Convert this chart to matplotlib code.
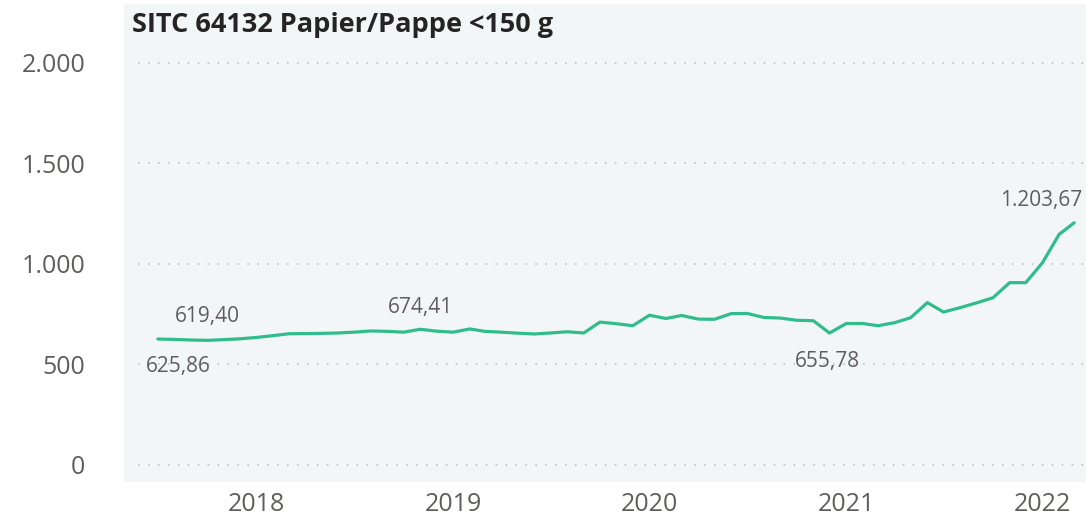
import matplotlib
matplotlib.use("Agg")
import matplotlib.pyplot as plt
import matplotlib.dates as mdates
import numpy as np
import pandas as pd

# ---- data ----
start_month = "2017-07-01"
values = [625.86, 624, 621, 619.40, 623, 627, 634, 643, 652, 653, 654, 656,
          660, 666, 664, 660, 674.41, 665, 660, 676, 664, 660, 655, 651,
          656, 662, 656, 710, 702, 692, 744, 728, 743, 725, 724, 752,
          753, 733, 730, 719, 717, 655.78, 703, 703, 692, 707, 732, 807,
          760, 782, 806, 831, 906, 906, 1005, 1146, 1203.67]
dates = pd.date_range(start_month, periods=len(values), freq="MS")
labeled = {0: (20, -27), 3: (0, 24), 16: (0, 22), 41: (-2, -28), 56: (-33, 22)}
year_ticks = ["2018", "2019", "2020", "2021", "2022"]
y_ticks = [0, 500, 1000, 1500, 2000]
y_ticklabels = ["0", "500", "1.000", "1.500", "2.000"]
title = "SITC 64132 Papier/Pappe <150 g"

# ---- style ----
W, H = 1086, 520
plt.rcParams['font.family'] = ['Open Sans', 'DejaVu Sans']
line_color = "#30BD8B"
panel_color = "#F3F6F7"
text_grey = "#605E5C"

fig = plt.figure(figsize=(W / 100, H / 100), dpi=100)
ax_left, ax_right, ax_top, ax_bottom = 124, 1086, 4, 482
ax = fig.add_axes([ax_left / W, 1 - ax_bottom / H, (ax_right - ax_left) / W,
                   (ax_bottom - ax_top) / H])
ax.set_facecolor(panel_color)
for s in ax.spines.values():
    s.set_visible(False)

xnum = mdates.date2num(dates)
ax.plot(xnum, values, color=line_color, lw=2.3, solid_joinstyle="round",
        solid_capstyle="round", zorder=3)

# limits
ax.set_xlim(mdates.date2num(pd.Timestamp("2017-04-29")),
            mdates.date2num(pd.Timestamp("2022-03-23")))
ax.set_ylim(-84.5, 2290.7)

# gridlines
for yv in y_ticks:
    ax.axhline(yv, xmin=0.0146, xmax=1, color="#C8C8C8", lw=1.3,
               dashes=(1, 4.5), zorder=1)

ax.set_yticks(y_ticks)
ax.set_yticklabels(y_ticklabels)
xt = [mdates.date2num(pd.Timestamp(f"{y}-01-01")) for y in year_ticks]
ax.set_xticks(xt)
ax.set_xticklabels(year_ticks)
ax.tick_params(axis="both", length=0, labelsize=18, colors=text_grey)
ax.tick_params(axis="y", pad=28)
ax.tick_params(axis="x", pad=7)

# data labels
for i, (dx, dy) in labeled.items():
    v = values[i]
    s = f"{v:,.2f}".replace(",", "X").replace(".", ",").replace("X", ".")
    ax.annotate(s, xy=(xnum[i], v), xytext=(dx, dy), textcoords="offset pixels",
                ha="center", va="center", fontsize=15, color=text_grey, zorder=4)

fig.text(132 / W, 1 - 32 / H, title, ha="left", va="baseline", fontsize=19.5,
         fontweight="bold", color="#252423")

fig.savefig("out.png", dpi=100, facecolor="white")
